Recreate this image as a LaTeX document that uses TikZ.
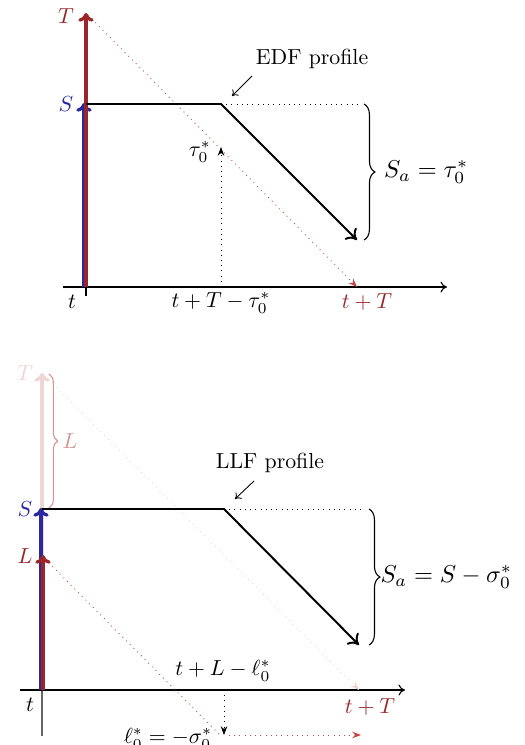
\documentclass[tikz,border=0pt]{standalone}
\usetikzlibrary{arrows.meta,decorations.pathreplacing}
\definecolor{dred}{RGB}{155,38,42}
\definecolor{dblue}{RGB}{40,40,160}
\definecolor{fade}{RGB}{238,214,214}
\definecolor{fadebrace}{RGB}{214,150,150}
\definecolor{dotred}{RGB}{200,70,70}
\begin{document}
\begin{tikzpicture}[x=0.4587pt,y=-0.4587pt,
  lbl/.style={inner sep=0pt},
  biglbl/.style={inner sep=0pt,scale=1.12},
  bigarrow/.style={line width=1.5pt,-{To[length=4pt,width=7pt]}},
  axis/.style={line width=0.5pt,-{To[length=3pt,width=5pt]}},
  profile/.style={line width=0.9pt,-{To[length=4.5pt,width=7.5pt]}},
  dotarrow/.style={dotted,line width=0.4pt,-{Stealth[length=4pt,width=3pt]}},
  plain/.style={dotted,line width=0.4pt},
  sbrace/.style={decorate,decoration={brace,amplitude=5pt},line width=0.5pt},
  pointer/.style={line width=0.4pt,-{To[length=2.5pt,width=4pt]}}]
\useasboundingbox (0,0) rectangle (524,745);

% ---------------- top diagram ----------------
\coordinate (o1) at (86,287);
\coordinate (axL1) at (63,287);
\coordinate (axR1) at (447,287);
\coordinate (tick1) at (86,296);
\coordinate (Ttip1) at (86,13);
\coordinate (Stip1) at (84,103);
\coordinate (Sb1) at (84,287);
\coordinate (p1a) at (86,104);
\coordinate (p1b) at (221,104);
\coordinate (p1c) at (357,240);
\coordinate (d1e) at (362,104);
\coordinate (br1a) at (364,104);
\coordinate (br1b) at (364,240);
\coordinate (rd1s) at (88,15);
\coordinate (rd1e) at (357,287);
\coordinate (vd1s) at (221,287);
\coordinate (vd1e) at (221,147);
\coordinate (ptr1s) at (252,76);
\coordinate (ptr1e) at (232,96);

\draw[axis] (axL1) -- (axR1);
\draw[line width=0.5pt] (o1) -- (tick1);
\draw[bigarrow,dblue] (Sb1) -- (Stip1);
\draw[bigarrow,dred] (o1) -- (Ttip1);
\draw[dotarrow,dotred] (rd1s) -- (rd1e);
\draw[dotarrow,black] (vd1s) -- (vd1e);
\draw[plain] (p1b) -- (d1e);
\draw[profile,line join=round] (p1a) -- (p1b) -- (p1c);
\draw[sbrace] (br1a) -- (br1b) node[midway,right=9pt,biglbl] (sa1) {$S_a = \tau_0^*$};
\draw[pointer] (ptr1s) -- (ptr1e);

\node[lbl,dred] (T1) at (66,16) {$T$};
\node[lbl,dblue] (S1) at (66,104) {$S$};
\node[lbl] (tau1) at (200,152) {$\tau_0^*$};
\node[lbl] (edf) at (312,59) {EDF profile};
\node[lbl] (t1) at (72,302) {$t$};
\node[lbl] (tT1) at (221,303) {$t+T-\tau_0^*$};
\node[lbl,dred] (tpT1) at (367,302) {$t+T$};

% ---------------- bottom diagram ----------------
\coordinate (o2) at (42,690);
\coordinate (axL2) at (20,690);
\coordinate (axR2) at (405,690);
\coordinate (low2) at (42,736);
\coordinate (Ttip2) at (42,373);
\coordinate (Stip2) at (41,508);
\coordinate (Sb2) at (41,690);
\coordinate (Ltip2) at (43,555);
\coordinate (Lb2) at (43,690);
\coordinate (p2a) at (42,509);
\coordinate (p2b) at (224,509);
\coordinate (p2c) at (359,645);
\coordinate (d2e) at (363,509);
\coordinate (br2a) at (369,509);
\coordinate (br2b) at (369,645);
\coordinate (br3a) at (49,374);
\coordinate (br3b) at (49,508);
\coordinate (fd2s) at (45,376);
\coordinate (fd2e) at (359,690);
\coordinate (rd2s) at (45,559);
\coordinate (rd2e) at (220,735);
\coordinate (vd2s) at (224,690);
\coordinate (vd2e) at (224,735);
\coordinate (hd2s) at (229,735);
\coordinate (hd2e) at (361,735);
\coordinate (ptr2s) at (254,481);
\coordinate (ptr2e) at (235,499);

\draw[line width=0.5pt,black!60] (o2) -- (low2);
\draw[axis] (axL2) -- (axR2);
\draw[bigarrow,fade] (o2) -- (Ttip2);
\draw[sbrace,fadebrace,decoration={brace,amplitude=4pt}] (br3a) -- (br3b) node[midway,right=6pt,lbl] (Lf) {$L$};
\draw[dotarrow,fade] (fd2s) -- (fd2e);
\draw[bigarrow,dblue] (Sb2) -- (Stip2);
\draw[bigarrow,dred] (Lb2) -- (Ltip2);
\draw[plain,dotred] (rd2s) -- (rd2e);
\draw[dotarrow,black] (vd2s) -- (vd2e);
\draw[dotarrow,dotred] (hd2s) -- (hd2e);
\draw[plain] (p2b) -- (d2e);
\draw[profile,line join=round] (p2a) -- (p2b) -- (p2c);
\draw[sbrace] (br2a) -- (br2b) node[midway,right=5pt,biglbl] (sa2) {$S_a = S - \sigma_0^*$};
\draw[pointer] (ptr2s) -- (ptr2e);

\node[lbl,fade] (T2) at (25,373) {$T$};
\node[lbl,dblue] (S2) at (25,509) {$S$};
\node[lbl,dred] (L2) at (25,556) {$L$};
\node[lbl] (llf) at (270,463) {LLF profile};
\node[lbl] (tL2) at (223,671) {$t+L-\ell_0^*$};
\node[lbl] (t2) at (30,705) {$t$};
\node[lbl,dred] (tpT2) at (370,707) {$t+T$};
\node[lbl] (ell2) at (168,739) {$\ell_0^* = -\sigma_0^*$};
\end{tikzpicture}
\end{document}
